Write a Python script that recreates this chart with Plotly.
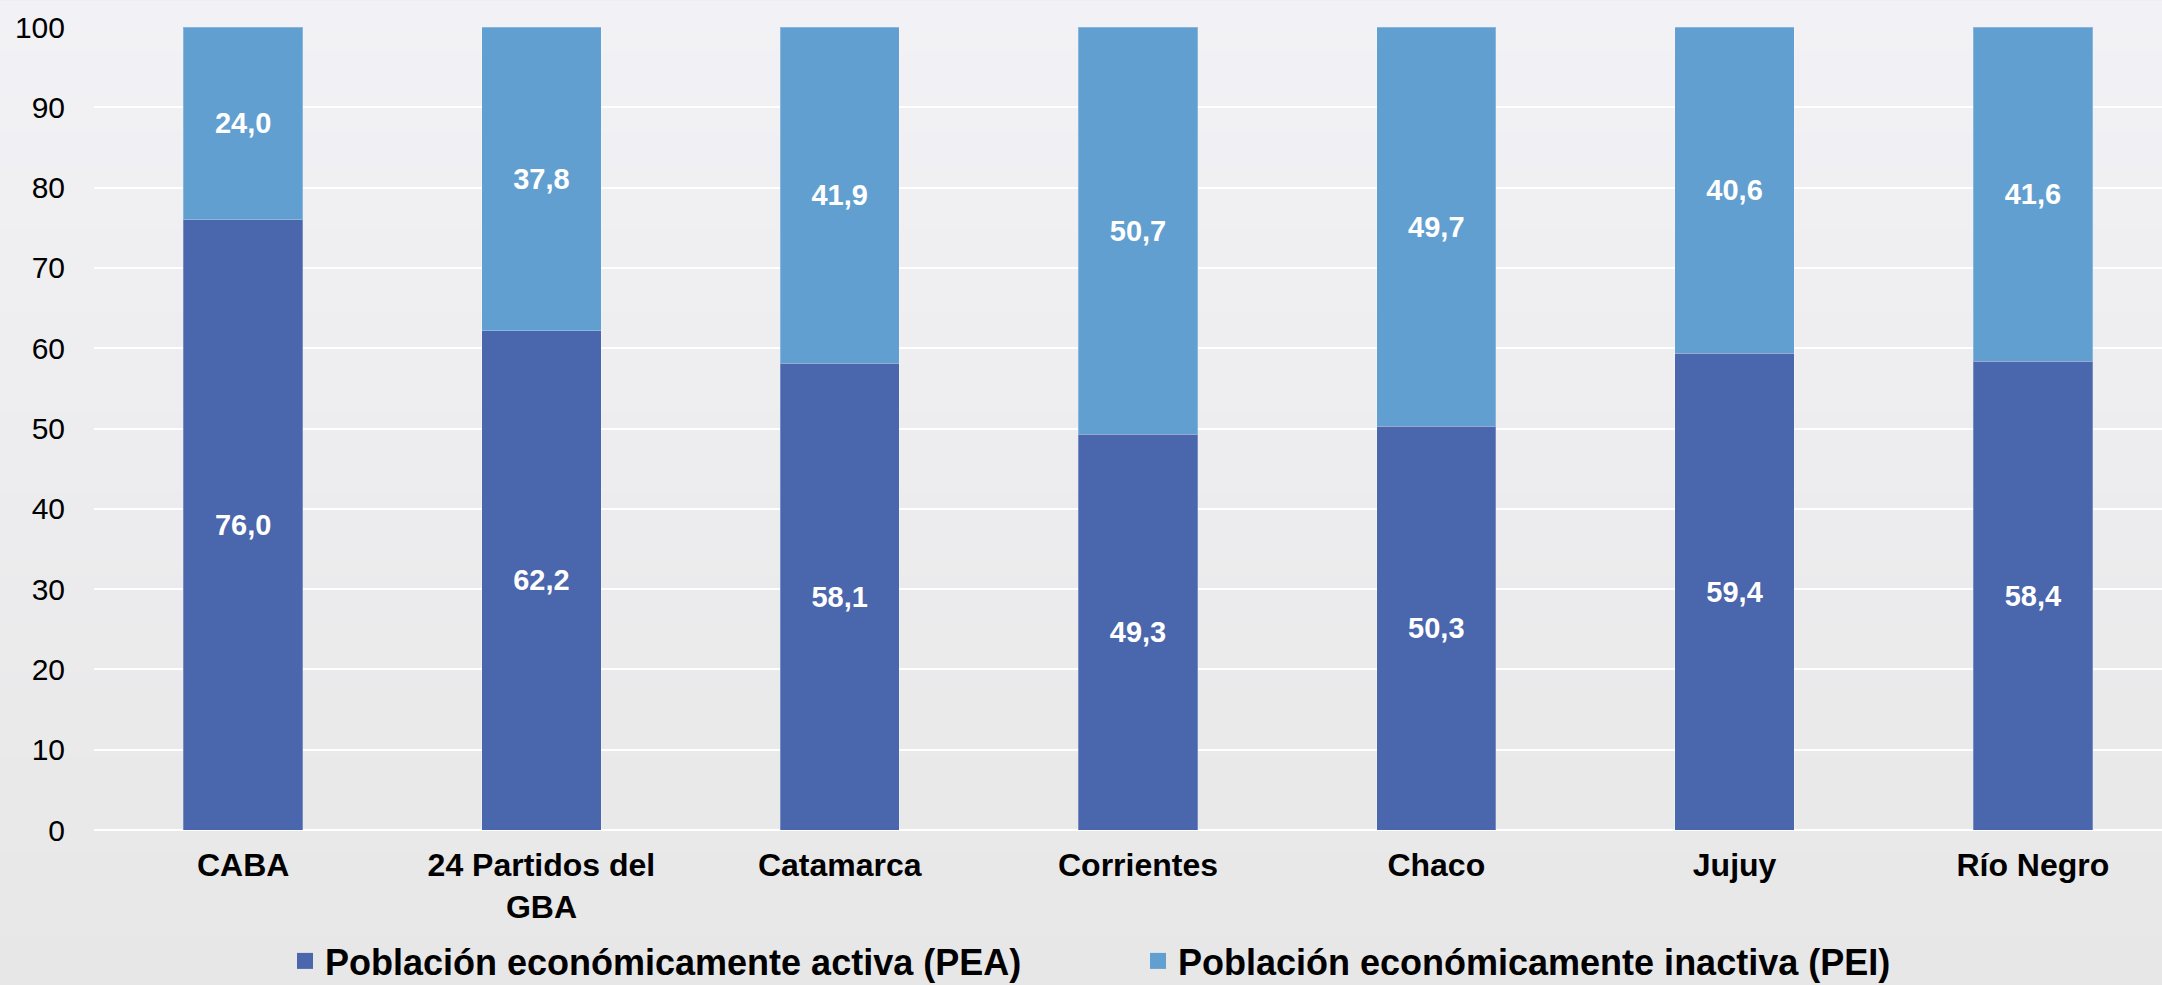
import plotly.graph_objects as go

categories = ["CABA", "24 Partidos del<br>GBA", "Catamarca", "Corrientes", "Chaco", "Jujuy", "Río Negro"]
pea = [76.0, 62.2, 58.1, 49.3, 50.3, 59.4, 58.4]
pei = [24.0, 37.8, 41.9, 50.7, 49.7, 40.6, 41.6]
series_names = ["Población económicamente activa (PEA)", "Población económicamente inactiva (PEI)"]
y_ticks = [0, 10, 20, 30, 40, 50, 60, 70, 80, 90, 100]

C_PEA = "#4A66AC"
C_PEI = "#629FD1"
FONT = "Liberation Sans, Arial, sans-serif"

W, H = 2162, 985
L, R_EDGE, T, B = 94, 2162, 26.5, 830

fig = go.Figure()
for vals, name, col in [(pea, series_names[0], C_PEA), (pei, series_names[1], C_PEI)]:
    fig.add_trace(go.Bar(
        x=list(range(len(categories))), y=vals, name=name,
        marker=dict(color=col, line=dict(width=1, color="rgba(255,255,255,0.25)")),
        texttemplate="%{y:.1f}", textposition="inside", insidetextanchor="middle",
        textangle=0,
        textfont=dict(family=FONT, size=29, color="white", weight="bold"),
        showlegend=False, hoverinfo="skip",
    ))
    fig.add_trace(go.Scatter(
        x=[None], y=[None], mode="markers", name=name,
        marker=dict(symbol="square", size=19, color=col),
        showlegend=True,
    ))

# background vertical gradient (top light -> bottom darker)
def px_to_py(p):
    return (B - p) / (B - T)

def px_to_px(p):
    return (p - L) / (R_EDGE - L)

n = 60
top = (242, 242, 246)
bot = (231, 231, 231)
shapes = []
for i in range(n):
    f = (i + 0.5) / n
    c = tuple(round(top[k] + (bot[k] - top[k]) * f) for k in range(3))
    p0 = H * i / n
    p1 = H * (i + 1) / n + 1
    shapes.append(dict(type="rect", xref="paper", yref="paper",
                       x0=px_to_px(-5), x1=px_to_px(W + 5), y0=px_to_py(p1), y1=px_to_py(p0),
                       fillcolor="rgb(%d,%d,%d)" % c, line=dict(width=0), layer="below"))

fig.update_layout(
    width=W, height=H,
    margin=dict(l=L, r=0, t=T, b=H - B, pad=0),
    barmode="stack", bargap=0.6,
    separators=",.",
    paper_bgcolor="rgb(236,236,238)", plot_bgcolor="rgba(0,0,0,0)",
    shapes=shapes,
    font=dict(family=FONT, color="black"),
    legend=dict(
        orientation="h", xref="container", yref="container", traceorder="normal",
        x=285 / W, xanchor="left", y=1 - 961 / H, yanchor="middle",
        font=dict(family=FONT, size=36, color="black", weight="bold"),
        bgcolor="rgba(0,0,0,0)", entrywidth=808, entrywidthmode="pixels",
        itemclick=False, itemdoubleclick=False,
    ),
    xaxis=dict(
        tickmode="array", tickvals=list(range(len(categories))), ticktext=categories,
        range=[-0.5, 6.5 - 20 / 298.3], showgrid=False, zeroline=False, showline=False,
        ticks="", tickfont=dict(family=FONT, size=32, color="black", weight="bold"),
        ticklabelstandoff=13, fixedrange=True,
    ),
    yaxis=dict(
        range=[0, 100], tickvals=y_ticks, showgrid=True, gridcolor="white", gridwidth=2,
        zeroline=True, zerolinecolor="white", zerolinewidth=2, showline=False, ticks="",
        tickfont=dict(family=FONT, size=30, color="black"), ticklabelstandoff=28,
        fixedrange=True,
    ),
)

fig.write_html("out.html", config={"displayModeBar": False},
               post_script="document.body.style.margin='0';document.body.style.overflow='hidden';")
